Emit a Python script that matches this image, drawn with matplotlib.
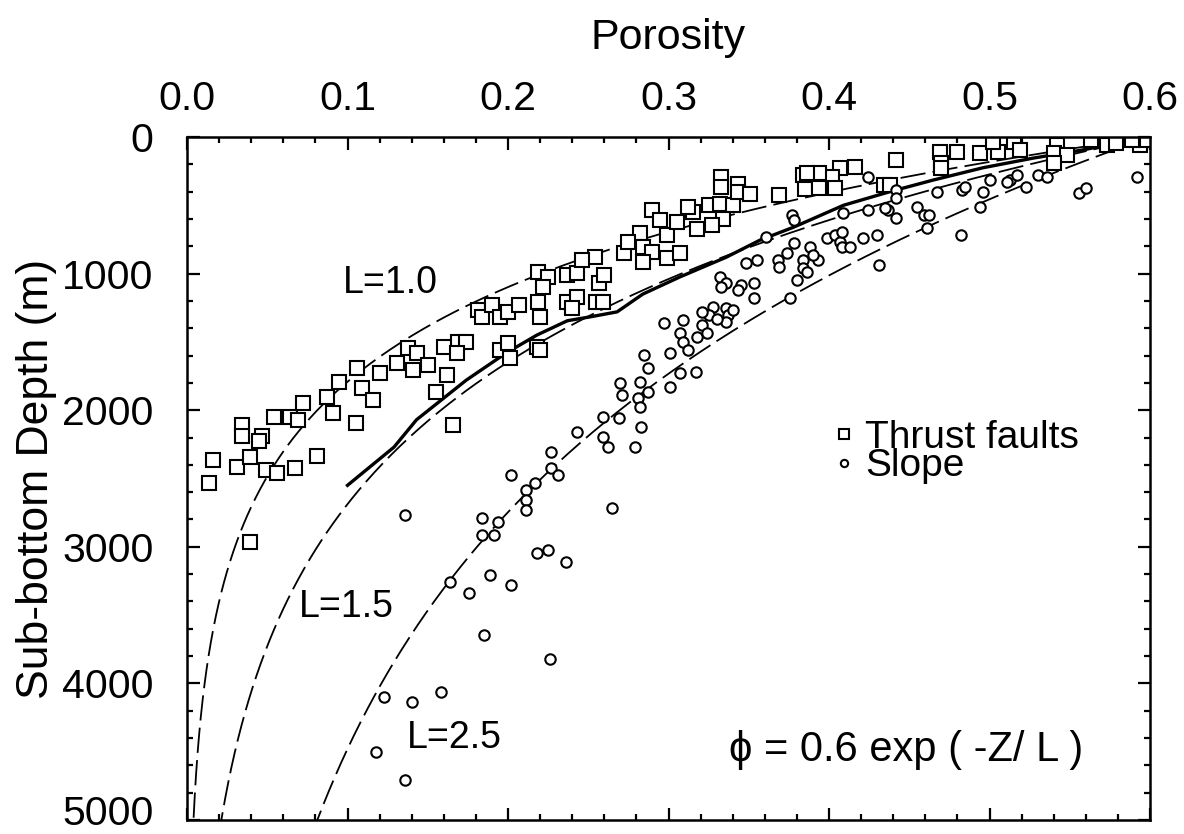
import numpy as np
import matplotlib
matplotlib.use("Agg")
import matplotlib.pyplot as plt
import matplotlib.transforms as mtransforms
from matplotlib.ticker import MultipleLocator

plt.rcParams['font.family'] = ['Liberation Sans', 'DejaVu Sans']

# ---- data (porosity, depth in m) ----
thrust_phi = [0.014, 0.016, 0.034, 0.034, 0.031, 0.039, 0.047, 0.045, 0.049, 0.056,
              0.054, 0.064, 0.069, 0.067, 0.081, 0.072, 0.087, 0.091, 0.095, 0.106,
              0.109, 0.116, 0.105, 0.039, 0.120, 0.131, 0.138, 0.143, 0.141, 0.150,
              0.160, 0.169, 0.174, 0.168, 0.162, 0.155, 0.166,
              0.181, 0.184, 0.190, 0.195, 0.200, 0.207, 0.219, 0.220, 0.237, 0.243,
              0.240, 0.255, 0.259, 0.219, 0.225, 0.237, 0.243, 0.254, 0.246, 0.257,
              0.222, 0.260, 0.195, 0.201, 0.200, 0.218, 0.220,
              0.272, 0.282, 0.290, 0.295, 0.284, 0.290, 0.299, 0.299, 0.305, 0.307,
              0.315, 0.325, 0.332, 0.340, 0.334, 0.327, 0.318, 0.312, 0.333, 0.333,
              0.343, 0.343, 0.351, 0.369, 0.384, 0.385, 0.393, 0.275, 0.284,
              0.442, 0.469, 0.480, 0.470, 0.470, 0.494, 0.505, 0.502, 0.515, 0.519,
              0.542, 0.540, 0.548, 0.540, 0.563, 0.573, 0.579, 0.594, 0.589, 0.407,
              0.416, 0.402, 0.394, 0.386, 0.394, 0.404, 0.434, 0.438, 0.598]
thrust_depth = [2530, 2365, 2110, 2190, 2415, 2340, 2190, 2225, 2440, 2460,
                2050, 2050, 2070, 2420, 2335, 1945, 1905, 2020, 1795, 1690,
                1840, 1925, 2095, 2965, 1730, 1655, 1545, 1580, 1705, 1670,
                1535, 1500, 1500, 1580, 1740, 1865, 2110,
                1265, 1320, 1230, 1320, 1280, 1230, 1210, 1320, 1210, 1170,
                1250, 1210, 1210, 990, 1025, 1010, 995, 880, 900, 1070,
                1100, 1010, 1560, 1620, 1510, 1540, 1560,
                850, 700, 535, 610, 805, 840, 885, 715, 620, 850,
                550, 500, 490, 500, 600, 645, 675, 510, 295, 365,
                345, 405, 415, 425, 280, 380, 280, 770, 915,
                170, 110, 110, 190, 225, 115, 110, 35, 35, 95,
                60, 115, 130, 190, 20, 60, 45, 60, 20, 225,
                220, 295, 265, 265, 375, 375, 350, 350, 20]

slope_phi = [0.592, 0.556, 0.560, 0.482, 0.431, 0.461, 0.455, 0.459, 0.494, 0.496,
             0.500, 0.483, 0.467, 0.513, 0.517, 0.523, 0.530, 0.536, 0.511, 0.442,
             0.442, 0.437, 0.442, 0.435, 0.424, 0.409, 0.424, 0.377, 0.361, 0.378,
             0.374, 0.384, 0.384, 0.393, 0.399, 0.404, 0.407, 0.408, 0.413, 0.421,
             0.430, 0.388, 0.390, 0.368, 0.369, 0.348, 0.355, 0.380, 0.386, 0.332,
             0.336, 0.345, 0.353, 0.343, 0.336, 0.328, 0.325, 0.337, 0.353, 0.376,
             0.321, 0.309, 0.297, 0.307, 0.309, 0.312, 0.301, 0.318, 0.324, 0.307,
             0.317, 0.301, 0.340, 0.285, 0.287, 0.282, 0.287, 0.281, 0.282, 0.270,
             0.271, 0.259, 0.269, 0.283, 0.259, 0.262, 0.279, 0.243, 0.227, 0.227,
             0.231, 0.217, 0.211, 0.211, 0.211, 0.202, 0.265, 0.194, 0.184, 0.184,
             0.191, 0.136, 0.218, 0.225, 0.236, 0.164, 0.189, 0.176, 0.202, 0.185,
             0.226, 0.123, 0.140, 0.158, 0.118, 0.136, 0.378, 0.333, 0.321, 0.336,
             0.330, 0.408, 0.485, 0.462]
slope_depth = [295, 410, 375, 720, 935, 665, 510, 570, 510, 405,
               315, 390, 405, 315, 280, 365, 280, 295, 330, 390,
               445, 535, 595, 520, 295, 555, 535, 570, 730, 775,
               850, 900, 960, 900, 740, 715, 770, 805, 805, 740,
               715, 805, 865, 900, 950, 920, 900, 1045, 990, 1025,
               1070, 1085, 1070, 1120, 1250, 1245, 1305, 1305, 1180, 1180,
               1375, 1340, 1360, 1435, 1500, 1560, 1580, 1465, 1435, 1730,
               1720, 1830, 1265, 1595, 1690, 1795, 1865, 1910, 1975, 1800,
               1890, 2050, 2055, 2125, 2195, 2270, 2270, 2160, 2305, 2425,
               2475, 2530, 2585, 2655, 2730, 2475, 2715, 2820, 2790, 2915,
               2915, 2765, 3045, 3025, 3110, 3260, 3205, 3340, 3280, 3645,
               3820, 4100, 4135, 4065, 4500, 4705, 610, 1100, 1280, 1355,
               1330, 695, 365, 570]

# solid curve
curve_phi = [0.100, 0.129, 0.143, 0.174, 0.199, 0.218, 0.237, 0.252, 0.268, 0.284,
             0.307, 0.336, 0.357, 0.378, 0.409, 0.438, 0.465, 0.496, 0.527, 0.558,
             0.579, 0.598]
curve_depth = [2550, 2270, 2070, 1780, 1580, 1450, 1345, 1315, 1280, 1150,
               1025, 880, 755, 660, 500, 400, 315, 225, 155, 95,
               45, 0]

L_values = [1.0, 1.5, 2.5]          # km
L_labels = ["L=1.0", "L=1.5", "L=2.5"]
L_label_pos = [(0.097, 1070), (0.070, 3440), (0.137, 4400)]
phi0 = 0.6

xticks = [0.0, 0.1, 0.2, 0.3, 0.4, 0.5, 0.6]
yticks = [0, 1000, 2000, 3000, 4000, 5000]

# ---- figure ----
fig = plt.figure(figsize=(11.84, 8.34), dpi=100)
ax = fig.add_axes([187/1184, 1 - 820/834, (1150-187)/1184, (820-137)/834])

z = np.linspace(0, 5000, 400)
for L in L_values:
    ax.plot(phi0*np.exp(-z/(L*1000.0)), z, color='black', lw=1.3,
            dashes=(14, 4), solid_capstyle='butt')

ax.plot(curve_phi, curve_depth, color='black', lw=2.4, solid_joinstyle='round')

ax.plot(thrust_phi, thrust_depth, ls='none', marker='s', ms=10, mfc='white',
        mec='black', mew=1.5, label='Thrust faults')
ax.plot(slope_phi, slope_depth, ls='none', marker='o', ms=7.5, mfc='white',
        mec='black', mew=1.5, label='Slope')

for lab, (px, py) in zip(L_labels, L_label_pos):
    ax.text(px, py, lab, fontsize=27, ha='left', va='center')

ax.text(0.338, 4490, "ϕ = 0.6 exp ( -Z/ L )", fontsize=30, ha='left', va='center')

leg = ax.legend(loc='upper left', bbox_to_anchor=(0.652, 0.614), frameon=False,
                fontsize=28, handlelength=0.5, handletextpad=0.3,
                labelspacing=-0.2, markerscale=0.7, borderpad=0)

ax.set_xlim(0, 0.6)
ax.set_ylim(5000, 0)
ax.xaxis.set_ticks_position('top')
ax.xaxis.set_label_position('top')
ax.set_xticks(xticks)
ax.set_xticklabels([f"{t:.1f}" for t in xticks])
ax.set_yticks(yticks)
ax.set_yticklabels([str(t) for t in yticks])
ax.xaxis.set_minor_locator(MultipleLocator(0.02))
ax.yaxis.set_minor_locator(MultipleLocator(200))
ax.tick_params(which='both', direction='in', top=True, bottom=True, left=True, right=True,
               labelsize=29.5, width=1.6)
ax.tick_params(which='major', length=9)
ax.tick_params(which='minor', length=4.5)
ax.tick_params(axis='x', which='major', pad=14)
ax.tick_params(axis='y', which='major', pad=24)
for s in ax.spines.values():
    s.set_linewidth(1.8)

# nudge the bottom y label so it stays inside the figure
last = ax.get_yticklabels()[-1]
last.set_transform(last.get_transform() + mtransforms.ScaledTranslation(0, 7/72, fig.dpi_scale_trans))

ax.set_xlabel("Porosity", fontsize=31, labelpad=22)
ax.set_ylabel("Sub-bottom Depth (m)", fontsize=32, labelpad=4)

fig.savefig("out.png", dpi=100)
